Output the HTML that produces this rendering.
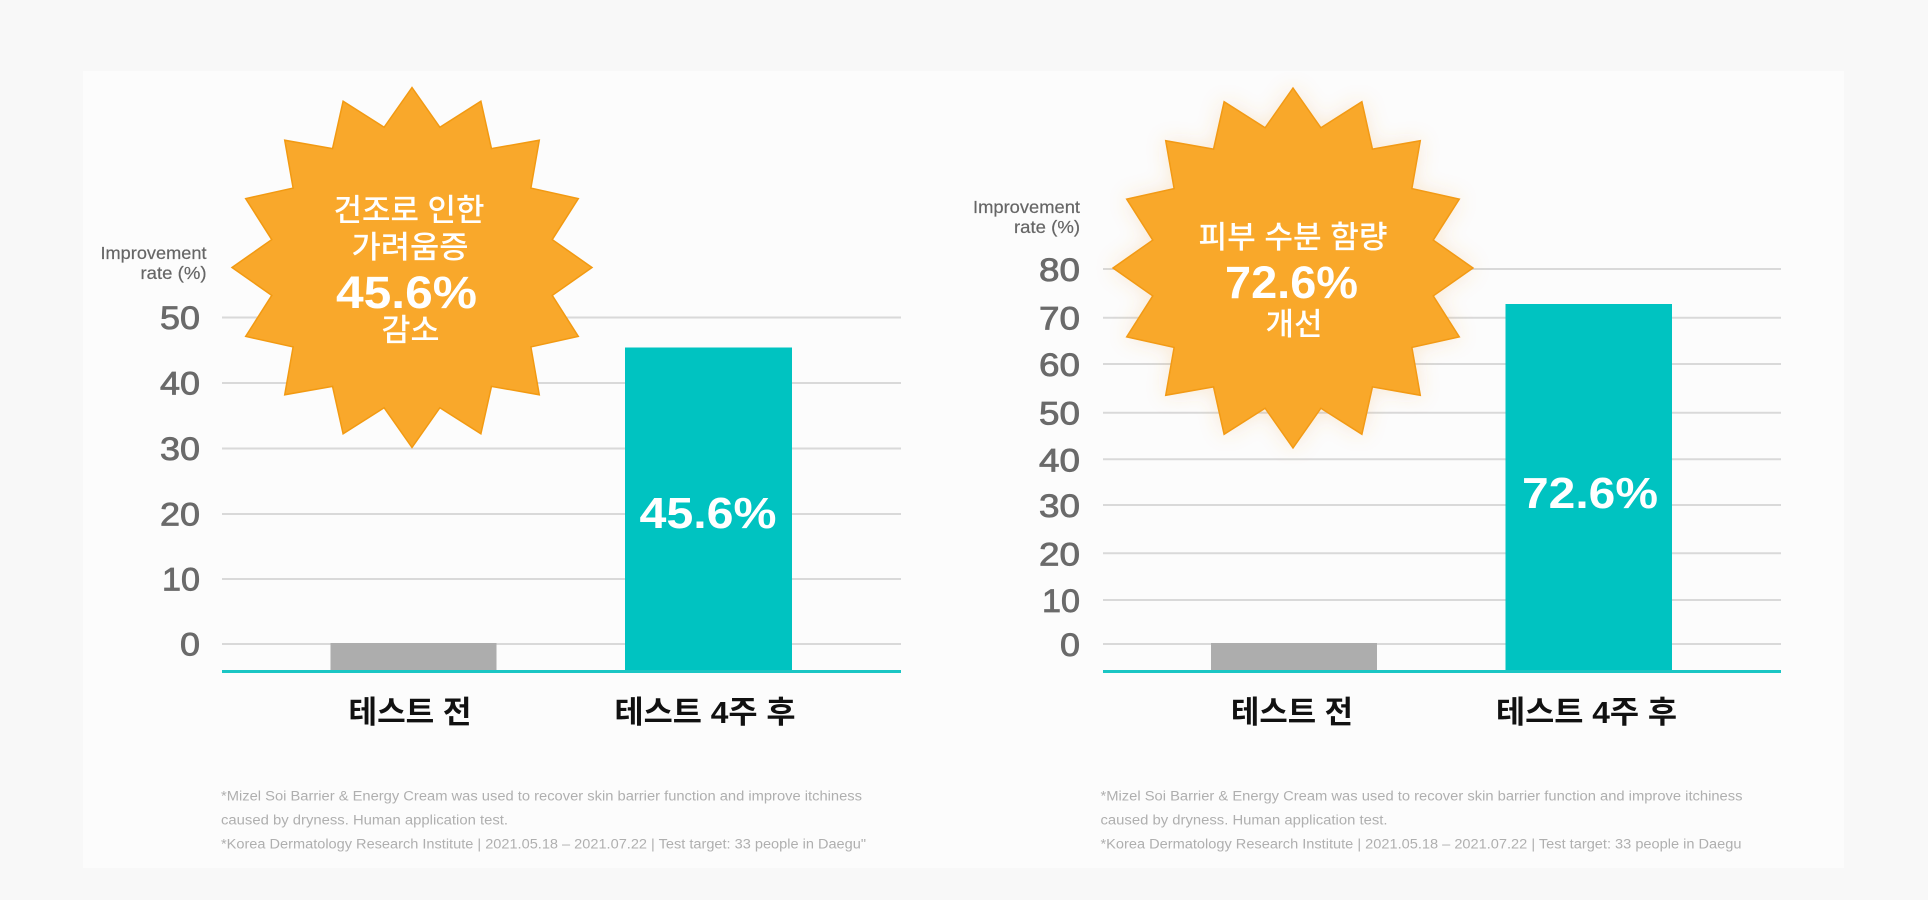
<!DOCTYPE html>
<html>
<head>
<meta charset="utf-8">
<style>
html,body{margin:0;padding:0;background:#f8f8f8;}
svg{display:block;}
.tick{font-family:"Liberation Sans",sans-serif;font-size:32px;fill:#6a6a6a;text-anchor:end;stroke:#6a6a6a;stroke-width:0.8;}
.ylab{font-family:"Liberation Sans",sans-serif;font-size:17.5px;fill:#666;text-anchor:end;stroke:#666;stroke-width:0.2;}
.burst{font-family:"Liberation Sans","Noto Sans CJK KR",sans-serif;fill:#fff;font-weight:500;font-size:31px;text-anchor:middle;}
.burstnum{font-family:"Liberation Sans",sans-serif;fill:#fff;font-weight:bold;font-size:45px;text-anchor:middle;}
.barlab{font-family:"Liberation Sans",sans-serif;fill:#fff;font-weight:bold;font-size:44px;text-anchor:middle;}
.xlab{font-family:"Liberation Sans","Noto Sans CJK KR",sans-serif;fill:#111;font-weight:bold;font-size:31px;text-anchor:middle;}
.foot{font-family:"Liberation Sans",sans-serif;fill:#afafaf;font-size:13.5px;}
.grid{stroke:#d9d9d9;stroke-width:2;}
.axis{stroke:#1bc6c4;stroke-width:3;}
</style>
</head>
<body>
<svg width="1928" height="900" viewBox="0 0 1928 900" xmlns="http://www.w3.org/2000/svg">
<defs>
  <polygon id="star" points="0,-180 27.9,-140.25 68.88,-166.3 79.45,-118.9 127.28,-127.28 118.9,-79.45 166.3,-68.88 140.25,-27.9 180,0 140.25,27.9 166.3,68.88 118.9,79.45 127.28,127.28 79.45,118.9 68.88,166.3 27.9,140.25 0,180 -27.9,140.25 -68.88,166.3 -79.45,118.9 -127.28,127.28 -118.9,79.45 -166.3,68.88 -140.25,27.9 -180,0 -140.25,-27.9 -166.3,-68.88 -118.9,-79.45 -127.28,-127.28 -79.45,-118.9 -68.88,-166.3 -27.9,-140.25"/>
  <filter id="glow" x="-30%" y="-30%" width="160%" height="160%">
    <feGaussianBlur in="SourceAlpha" stdDeviation="10" result="b"/>
    <feFlood flood-color="#f0a040" flood-opacity="0.22"/>
    <feComposite in2="b" operator="in" result="s"/>
    <feMerge><feMergeNode in="s"/><feMergeNode in="SourceGraphic"/></feMerge>
  </filter>
</defs>

<rect x="0" y="0" width="1928" height="900" fill="#f8f8f8"/>
<rect x="83" y="71" width="1761" height="797" fill="#fcfcfc"/>

<!-- LEFT CHART -->
<g>
  <line class="grid" x1="222" y1="317.5" x2="901" y2="317.5"/>
  <line class="grid" x1="222" y1="383" x2="901" y2="383"/>
  <line class="grid" x1="222" y1="448.5" x2="901" y2="448.5"/>
  <line class="grid" x1="222" y1="514" x2="901" y2="514"/>
  <line class="grid" x1="222" y1="579" x2="901" y2="579"/>
  <line class="grid" x1="222" y1="644" x2="901" y2="644"/>

  <text class="ylab" x="206.5" y="259" textLength="106" lengthAdjust="spacingAndGlyphs">Improvement</text>
  <text class="ylab" x="206.5" y="279" textLength="66" lengthAdjust="spacingAndGlyphs">rate (%)</text>

  <text class="tick" x="200" y="329" textLength="40" lengthAdjust="spacingAndGlyphs">50</text>
  <text class="tick" x="200" y="394.5" textLength="40" lengthAdjust="spacingAndGlyphs">40</text>
  <text class="tick" x="200" y="460" textLength="40" lengthAdjust="spacingAndGlyphs">30</text>
  <text class="tick" x="200" y="525.5" textLength="40" lengthAdjust="spacingAndGlyphs">20</text>
  <text class="tick" x="200" y="590.5" textLength="38" lengthAdjust="spacingAndGlyphs">10</text>
  <text class="tick" x="200" y="655.5" textLength="20" lengthAdjust="spacingAndGlyphs">0</text>

  <rect x="330.5" y="643" width="166" height="28" fill="#adadad"/>
  <rect x="625" y="347.5" width="167" height="323.5" fill="#00c3c1"/>
  <line class="axis" x1="222" y1="671.5" x2="901" y2="671.5"/>

  <text class="barlab" x="708" y="528" textLength="137" lengthAdjust="spacingAndGlyphs">45.6%</text>

  <text class="xlab" x="410" y="723" textLength="123" lengthAdjust="spacingAndGlyphs">테스트 전</text>
  <text class="xlab" x="705" y="723" textLength="181" lengthAdjust="spacingAndGlyphs">테스트 4주 후</text>

  <g transform="translate(412,267.5)">
    <use href="#star" fill="#f9a82b" stroke="#f29a12" stroke-width="1.5"/>
  </g>
  <text class="burst" x="409" y="221" textLength="151" lengthAdjust="spacingAndGlyphs">건조로 인한</text>
  <text class="burst" x="410" y="258" textLength="117" lengthAdjust="spacingAndGlyphs">가려움증</text>
  <text class="burstnum" x="406.5" y="308" textLength="141" lengthAdjust="spacingAndGlyphs">45.6%</text>
  <text class="burst" x="410.5" y="341" textLength="58" lengthAdjust="spacingAndGlyphs">감소</text>

  <text class="foot" x="221" y="800.5" textLength="641" lengthAdjust="spacingAndGlyphs">*Mizel Soi Barrier &amp; Energy Cream was used to recover skin barrier function and improve itchiness</text>
  <text class="foot" x="221" y="824.5" textLength="287" lengthAdjust="spacingAndGlyphs">caused by dryness. Human application test.</text>
  <text class="foot" x="221" y="848.5" textLength="645" lengthAdjust="spacingAndGlyphs">*Korea Dermatology Research Institute | 2021.05.18 – 2021.07.22 | Test target: 33 people in Daegu"</text>
</g>

<!-- RIGHT CHART -->
<g>
  <line class="grid" x1="1103" y1="269" x2="1781" y2="269"/>
  <line class="grid" x1="1103" y1="317.7" x2="1781" y2="317.7"/>
  <line class="grid" x1="1103" y1="364" x2="1781" y2="364"/>
  <line class="grid" x1="1103" y1="412.7" x2="1781" y2="412.7"/>
  <line class="grid" x1="1103" y1="459.3" x2="1781" y2="459.3"/>
  <line class="grid" x1="1103" y1="505" x2="1781" y2="505"/>
  <line class="grid" x1="1103" y1="553.3" x2="1781" y2="553.3"/>
  <line class="grid" x1="1103" y1="600" x2="1781" y2="600"/>
  <line class="grid" x1="1103" y1="644" x2="1781" y2="644"/>

  <text class="ylab" x="1080" y="213" textLength="107" lengthAdjust="spacingAndGlyphs">Improvement</text>
  <text class="ylab" x="1080" y="233" textLength="66" lengthAdjust="spacingAndGlyphs">rate (%)</text>

  <text class="tick" x="1080" y="281" textLength="41" lengthAdjust="spacingAndGlyphs">80</text>
  <text class="tick" x="1080" y="329.7" textLength="41" lengthAdjust="spacingAndGlyphs">70</text>
  <text class="tick" x="1080" y="376" textLength="41" lengthAdjust="spacingAndGlyphs">60</text>
  <text class="tick" x="1080" y="424.7" textLength="41" lengthAdjust="spacingAndGlyphs">50</text>
  <text class="tick" x="1080" y="471.3" textLength="41" lengthAdjust="spacingAndGlyphs">40</text>
  <text class="tick" x="1080" y="517" textLength="41" lengthAdjust="spacingAndGlyphs">30</text>
  <text class="tick" x="1080" y="565.3" textLength="41" lengthAdjust="spacingAndGlyphs">20</text>
  <text class="tick" x="1080" y="612" textLength="38" lengthAdjust="spacingAndGlyphs">10</text>
  <text class="tick" x="1080" y="656" textLength="20" lengthAdjust="spacingAndGlyphs">0</text>

  <rect x="1211" y="643" width="166" height="28" fill="#adadad"/>
  <rect x="1505.5" y="304" width="166.5" height="367" fill="#00c3c1"/>
  <line class="axis" x1="1103" y1="671.5" x2="1781" y2="671.5"/>

  <text class="barlab" x="1590" y="508" textLength="136" lengthAdjust="spacingAndGlyphs">72.6%</text>

  <text class="xlab" x="1292" y="723" textLength="122" lengthAdjust="spacingAndGlyphs">테스트 전</text>
  <text class="xlab" x="1586.5" y="723" textLength="181" lengthAdjust="spacingAndGlyphs">테스트 4주 후</text>

  <g transform="translate(1293,268)" filter="url(#glow)">
    <use href="#star" fill="#f9a82b" stroke="#f29a12" stroke-width="1.5"/>
  </g>
  <text class="burst" x="1293" y="248" textLength="189" lengthAdjust="spacingAndGlyphs">피부 수분 함량</text>
  <text class="burstnum" x="1291.5" y="298" textLength="133" lengthAdjust="spacingAndGlyphs">72.6%</text>
  <text class="burst" x="1294" y="335" textLength="57" lengthAdjust="spacingAndGlyphs">개선</text>

  <text class="foot" x="1100.5" y="800.5" textLength="642" lengthAdjust="spacingAndGlyphs">*Mizel Soi Barrier &amp; Energy Cream was used to recover skin barrier function and improve itchiness</text>
  <text class="foot" x="1100.5" y="824.5" textLength="287" lengthAdjust="spacingAndGlyphs">caused by dryness. Human application test.</text>
  <text class="foot" x="1100.5" y="848.5" textLength="641" lengthAdjust="spacingAndGlyphs">*Korea Dermatology Research Institute | 2021.05.18 – 2021.07.22 | Test target: 33 people in Daegu</text>
</g>
</svg>
</body>
</html>
